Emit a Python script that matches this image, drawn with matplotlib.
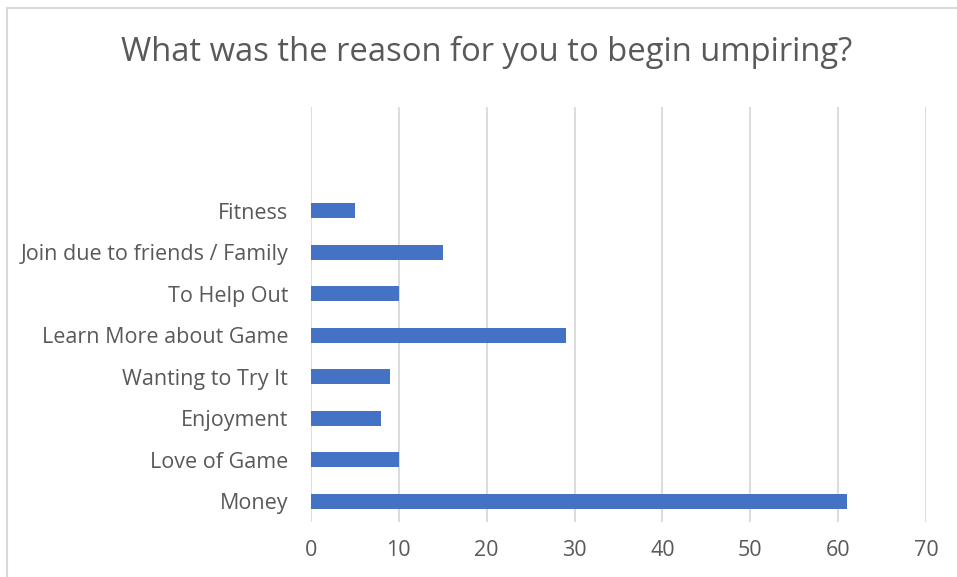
import matplotlib.pyplot as plt
from matplotlib.patches import Rectangle

categories = ['Money', 'Love of Game', 'Enjoyment', 'Wanting to Try It',
              'Learn More about Game', 'To Help Out', 'Join due to friends / Family',
              'Fitness', '', '']
counts = [61, 10, 8, 9, 29, 10, 15, 5, 0, 0]
xticks = [0, 10, 20, 30, 40, 50, 60, 70]

W, H = 957, 577
fig = plt.figure(figsize=(W / 100, H / 100), dpi=100)
ax = fig.add_axes([311 / W, 1 - 522 / H, (926 - 311) / W, (522 - 107) / H])

grey = '#595959'
font = 'Open Sans'

ax.barh(range(len(categories)), counts, height=0.37, color='#4472c4', zorder=3)
ax.set_xlim(0, 70)
ax.set_ylim(-0.5, len(categories) - 0.5)
ax.set_xticks(xticks)
ax.set_yticks(range(len(categories)))
ax.set_yticklabels(categories)
ax.grid(axis='x', color='#d9d9d9', linewidth=1.3, zorder=0)
for s in ax.spines.values():
    s.set_visible(False)
ax.tick_params(length=0, colors=grey, labelsize=15.5)
ax.tick_params(axis='y', pad=16.5)
ax.tick_params(axis='x', pad=13)
for lab in ax.get_xticklabels() + ax.get_yticklabels():
    lab.set_fontfamily(font)

fig.text(487 / W, 1 - 52 / H, 'What was the reason for you to begin umpiring?',
         ha='center', va='center', fontsize=23.6, color=grey, fontfamily=font)

# chart area border
fig.patches.append(Rectangle((7 / W, -0.05), 1.1, 1 - 8 / H + 0.05,
                             transform=fig.transFigure, fill=False,
                             edgecolor='#d9d9d9', linewidth=1.5))

fig.savefig('out.png', dpi=100)
